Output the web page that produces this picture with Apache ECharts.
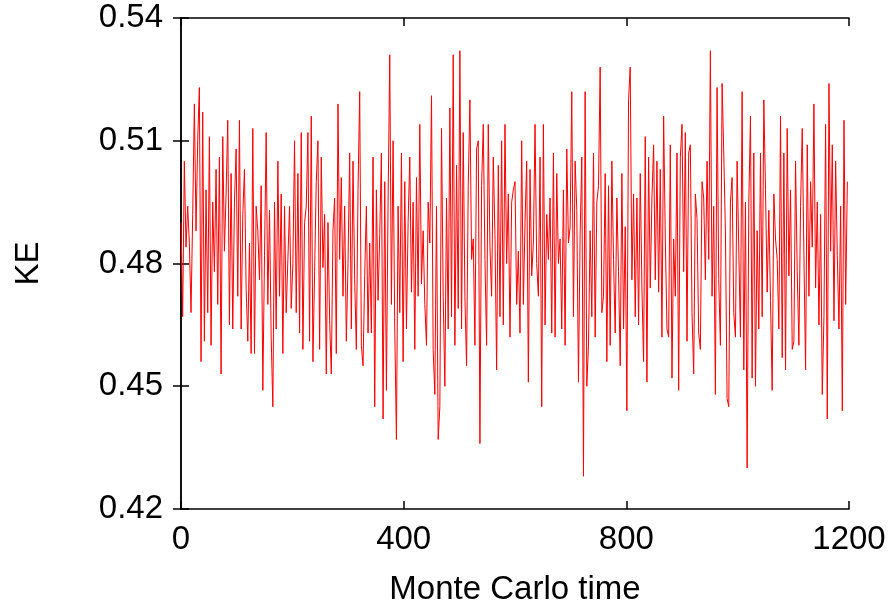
<!DOCTYPE html>
<html>
<head>
<meta charset="utf-8">
<script src="https://cdn.jsdelivr.net/npm/echarts@6/dist/echarts.min.js"></script>
<style>
html,body{margin:0;padding:0;background:#fff;}
#chart{width:893px;height:611px;}
</style>
</head>
<body>
<div id="chart"></div>
<script>
// Monte Carlo time step between samples
const mcStep = 3;
// Kinetic energy samples (t = 0, 3, 6, ... 1197)
const keValues = [
 // 0 - 99
 0.490,0.467,0.505,0.484,0.494,0.485,0.468,0.492,0.519,0.488,0.510,0.523,0.456,0.517,0.461,0.498,0.468,0.511,0.460,0.495,0.478,0.503,0.470,0.506,0.453,0.511,0.483,0.497,0.515,0.465,0.502,0.464,0.495,0.508,
 // 102 - 198
 0.472,0.515,0.464,0.492,0.503,0.474,0.461,0.485,0.458,0.513,0.458,0.494,0.488,0.476,0.499,0.449,0.482,0.512,0.470,0.493,0.462,0.445,0.495,0.464,0.505,0.472,0.497,0.458,0.494,0.468,0.481,0.494,0.469,
 // 201 - 297
 0.480,0.510,0.468,0.502,0.463,0.512,0.459,0.490,0.494,0.512,0.461,0.516,0.456,0.478,0.500,0.510,0.459,0.506,0.479,0.492,0.453,0.490,0.466,0.453,0.488,0.496,0.458,0.519,0.481,0.501,0.472,0.494,0.461,
 // 300 - 399
 0.480,0.507,0.464,0.505,0.476,0.459,0.498,0.522,0.460,0.455,0.477,0.494,0.463,0.485,0.463,0.506,0.445,0.498,0.471,0.487,0.507,0.442,0.500,0.449,0.495,0.531,0.470,0.510,0.464,0.437,0.494,0.468,0.507,0.456,
 // 402 - 498
 0.500,0.464,0.490,0.506,0.473,0.495,0.459,0.501,0.472,0.514,0.475,0.488,0.470,0.460,0.495,0.485,0.521,0.459,0.448,0.494,0.437,0.445,0.513,0.472,0.450,0.496,0.464,0.518,0.467,0.531,0.460,0.504,0.469,
 // 501 - 597
 0.532,0.464,0.512,0.472,0.455,0.499,0.520,0.481,0.486,0.460,0.508,0.510,0.436,0.499,0.514,0.481,0.460,0.514,0.484,0.472,0.506,0.487,0.454,0.504,0.467,0.510,0.465,0.514,0.480,0.497,0.462,0.495,0.498,
 // 600 - 699
 0.500,0.470,0.483,0.463,0.510,0.470,0.490,0.505,0.451,0.503,0.477,0.485,0.514,0.480,0.472,0.506,0.445,0.514,0.465,0.492,0.481,0.496,0.463,0.507,0.462,0.502,0.480,0.486,0.464,0.498,0.460,0.508,0.485,0.489,
 // 702 - 798
 0.522,0.467,0.505,0.493,0.451,0.487,0.506,0.428,0.522,0.450,0.460,0.488,0.467,0.507,0.462,0.495,0.499,0.528,0.468,0.472,0.502,0.456,0.499,0.460,0.505,0.481,0.463,0.496,0.478,0.455,0.502,0.464,0.489,
 // 801 - 897
 0.444,0.520,0.528,0.476,0.497,0.467,0.496,0.465,0.502,0.474,0.456,0.511,0.451,0.506,0.474,0.496,0.509,0.476,0.505,0.473,0.503,0.462,0.516,0.486,0.464,0.462,0.509,0.452,0.486,0.472,0.507,0.449,0.506,
 // 900 - 999
 0.514,0.478,0.512,0.461,0.507,0.509,0.468,0.453,0.497,0.491,0.463,0.459,0.500,0.496,0.476,0.505,0.481,0.532,0.472,0.494,0.448,0.523,0.476,0.460,0.524,0.507,0.488,0.447,0.445,0.495,0.501,0.468,0.462,0.505,
 // 1002 - 1098
 0.505,0.462,0.522,0.454,0.495,0.430,0.495,0.516,0.452,0.507,0.450,0.488,0.464,0.507,0.467,0.520,0.498,0.473,0.493,0.471,0.449,0.497,0.486,0.481,0.464,0.516,0.457,0.507,0.454,0.513,0.477,0.498,0.459,
 // 1101 - 1197
 0.461,0.505,0.478,0.460,0.494,0.513,0.482,0.454,0.509,0.472,0.500,0.484,0.519,0.474,0.495,0.465,0.492,0.448,0.467,0.514,0.442,0.524,0.483,0.509,0.466,0.505,0.482,0.464,0.494,0.444,0.515,0.470,0.500
];
const xTicks = [0, 400, 800, 1200];
const yTicks = [0.42, 0.45, 0.48, 0.51, 0.54];
const xTitle = 'Monte Carlo time';
const yTitle = 'KE';

const seriesData = keValues.map((v, i) => [i * mcStep, v]);

const chart = echarts.init(document.getElementById('chart'), null, {renderer: 'canvas'});
const font = 'Liberation Sans, Arial, Helvetica, sans-serif';
const fs = 33;
const axisLine = {show: true, lineStyle: {color: '#000', width: 1.5}};
const tick = {show: true, inside: true, length: 8, lineStyle: {color: '#000', width: 1.5}};

chart.setOption({
  animation: false,
  backgroundColor: '#fff',
  grid: {left: 181, top: 18, width: 668, height: 493},
  xAxis: [
    {
      type: 'value', position: 'bottom',
      min: xTicks[0], max: xTicks[xTicks.length - 1], interval: xTicks[1] - xTicks[0],
      axisLine: axisLine, axisTick: tick, splitLine: {show: false},
      axisLabel: {color: '#000', fontSize: fs, fontFamily: font, margin: 14,
        formatter: v => String(v)},
      name: xTitle, nameLocation: 'middle', nameGap: 64,
      nameTextStyle: {color: '#000', fontSize: fs, fontFamily: font}
    },
    {
      type: 'value', position: 'top',
      min: xTicks[0], max: xTicks[xTicks.length - 1], interval: xTicks[1] - xTicks[0],
      axisLine: axisLine, axisTick: tick, splitLine: {show: false},
      axisLabel: {show: false}
    }
  ],
  yAxis: [
    {
      type: 'value', position: 'left',
      min: yTicks[0], max: yTicks[yTicks.length - 1], interval: 0.03,
      axisLine: axisLine, axisTick: tick, splitLine: {show: false},
      axisLabel: {color: '#000', fontSize: fs, fontFamily: font, margin: 18,
        formatter: v => v.toFixed(2)},
      name: yTitle, nameLocation: 'middle', nameGap: 136, nameRotate: 90,
      nameTextStyle: {color: '#000', fontSize: fs, fontFamily: font}
    },
    {
      type: 'value', position: 'right',
      min: yTicks[0], max: yTicks[yTicks.length - 1], interval: 0.03,
      axisLine: axisLine, axisTick: tick, splitLine: {show: false},
      axisLabel: {show: false}
    }
  ],
  series: [{
    type: 'line',
    data: seriesData,
    xAxisIndex: 0, yAxisIndex: 0,
    showSymbol: false,
    lineStyle: {color: '#ff0000', width: 1},
    itemStyle: {color: '#ff0000'}
  }]
});
</script>
</body>
</html>
